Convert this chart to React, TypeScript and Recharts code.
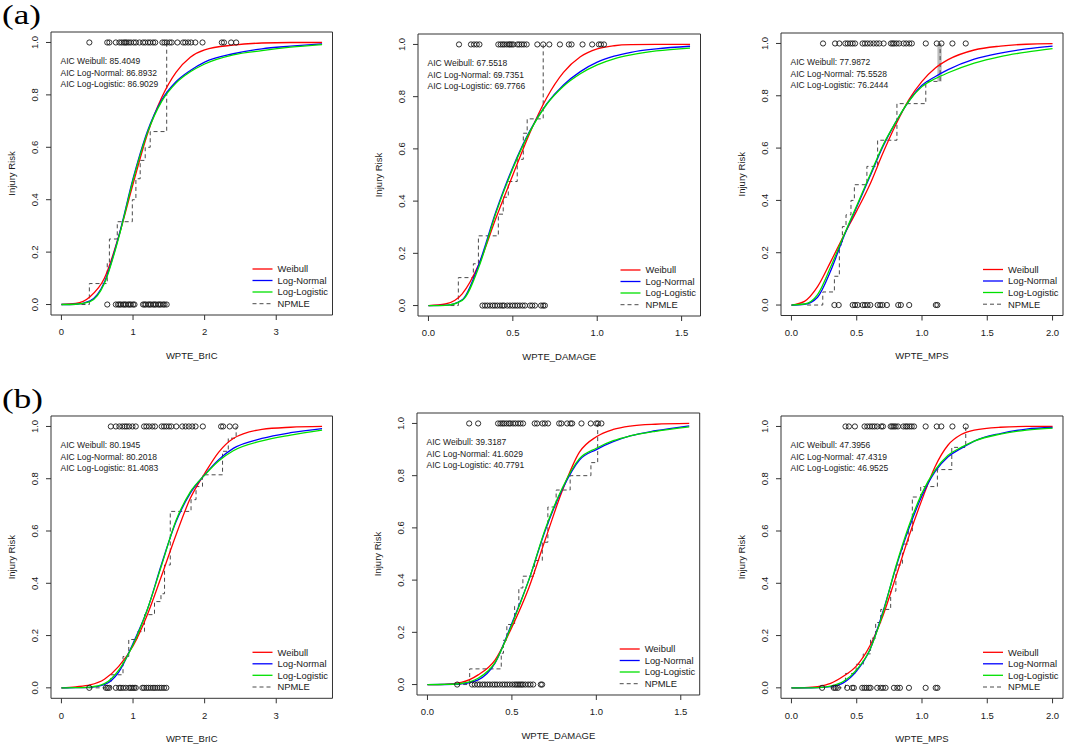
import React from 'react';
import { ComposedChart, Line, Scatter, XAxis, YAxis, ReferenceArea } from 'recharts';

// ---------- data ----------
const SERIES = ['Weibull', 'Log-Normal', 'Log-Logistic'];
const NPMLE_NAME = 'NPMLE';
const Y_TICKS = [0, 0.2, 0.4, 0.6, 0.8, 1.0];
const BRIC_TICKS = [0, 1, 2, 3];
const DAMAGE_TICKS = [0, 0.5, 1.0, 1.5];
const MPS_TICKS = [0, 0.5, 1.0, 1.5, 2.0];

// (a) WPTE_BrIC
const aBricGrid = [0, 0.2, 0.4, 0.6, 0.8, 1.0, 1.2, 1.4, 1.6, 1.8, 2.0, 2.4, 2.8, 3.2, 3.64];
const aBricWeibull = [0, 0.004, 0.03, 0.1, 0.26, 0.46, 0.65, 0.79, 0.886, 0.944, 0.972, 0.99, 0.998, 1, 1];
const aBricLogNormal = [0, 0.001, 0.014, 0.085, 0.26, 0.48, 0.66, 0.78, 0.85, 0.893, 0.925, 0.957, 0.976, 0.986, 0.995];
const aBricLogLogistic = [0, 0.001, 0.011, 0.08, 0.255, 0.475, 0.655, 0.775, 0.845, 0.888, 0.918, 0.953, 0.969, 0.982, 0.992];
const aBricStepX = [0.28, 0.39, 0.64, 0.67, 0.78, 0.99, 1.04, 1.1, 1.17, 1.24, 1.47];
const aBricStepY = [0, 0.08, 0.16, 0.25, 0.316, 0.4, 0.48, 0.55, 0.6, 0.66, 1];
const aBricInjured = [0.39, 0.64, 0.67, 0.76, 0.81, 0.84, 0.87, 0.89, 0.91, 0.94, 0.97, 1.01, 1.04, 1.09, 1.14, 1.17, 1.21, 1.24, 1.28, 1.31, 1.41, 1.44, 1.47, 1.51, 1.54, 1.62, 1.7, 1.73, 1.77, 1.81, 1.87, 1.97, 2.24, 2.27, 2.37, 2.44];
const aBricUninjured = [0.64, 0.76, 0.79, 0.81, 0.83, 0.86, 0.88, 0.9, 0.93, 0.95, 0.97, 1.0, 1.02, 1.14, 1.16, 1.18, 1.21, 1.23, 1.25, 1.28, 1.3, 1.32, 1.35, 1.37, 1.39, 1.42, 1.44, 1.47];
const aBricAic = [85.4049, 86.8932, 86.9029];

// (a) WPTE_DAMAGE
const aDmgGrid = [0, 0.1, 0.2, 0.3, 0.4, 0.5, 0.6, 0.7, 0.8, 0.9, 1.0, 1.1, 1.2, 1.35, 1.55];
const aDmgWeibull = [0, 0.006, 0.045, 0.16, 0.335, 0.5, 0.66, 0.795, 0.893, 0.953, 0.983, 0.995, 0.999, 1, 1];
const aDmgLogNormal = [0, 0.0005, 0.022, 0.16, 0.36, 0.53, 0.668, 0.772, 0.845, 0.896, 0.932, 0.955, 0.97, 0.983, 0.993];
const aDmgLogLogistic = [0, 0.001, 0.02, 0.15, 0.355, 0.525, 0.665, 0.77, 0.84, 0.888, 0.922, 0.945, 0.96, 0.975, 0.986];
const aDmgStepX = [0.13, 0.177, 0.266, 0.296, 0.414, 0.443, 0.473, 0.526, 0.562, 0.585, 0.68];
const aDmgStepY = [0, 0.107, 0.16, 0.267, 0.35, 0.415, 0.475, 0.56, 0.66, 0.715, 1];
const aDmgInjured = [0.181, 0.252, 0.27, 0.286, 0.302, 0.414, 0.428, 0.44, 0.45, 0.464, 0.477, 0.483, 0.493, 0.503, 0.527, 0.538, 0.552, 0.566, 0.582, 0.645, 0.68, 0.716, 0.779, 0.832, 0.848, 0.913, 0.97, 1.01, 1.022, 1.04];
const aDmgUninjured = [0.32, 0.335, 0.349, 0.365, 0.381, 0.394, 0.408, 0.424, 0.438, 0.448, 0.467, 0.483, 0.499, 0.513, 0.527, 0.542, 0.558, 0.572, 0.602, 0.615, 0.631, 0.667, 0.68, 0.69];
const aDmgAic = [67.5518, 69.7351, 69.7766];

// (a) WPTE_MPS
const aMpsGrid = [0, 0.1, 0.2, 0.3, 0.4, 0.5, 0.6, 0.7, 0.8, 0.9, 1.0, 1.1, 1.2, 1.4, 1.6, 1.8, 2.0];
const aMpsWeibull = [0, 0.014, 0.07, 0.165, 0.265, 0.36, 0.46, 0.58, 0.69, 0.785, 0.855, 0.905, 0.938, 0.975, 0.99, 0.997, 0.999];
const aMpsLogNormal = [0, 0.003, 0.03, 0.13, 0.26, 0.375, 0.49, 0.605, 0.7, 0.78, 0.84, 0.873, 0.9, 0.94, 0.963, 0.979, 0.99];
const aMpsLogLogistic = [0, 0.004, 0.04, 0.145, 0.265, 0.38, 0.495, 0.61, 0.7, 0.78, 0.835, 0.865, 0.888, 0.925, 0.95, 0.967, 0.98];
const aMpsStepX = [0.12, 0.24, 0.329, 0.367, 0.39, 0.418, 0.456, 0.482, 0.578, 0.66, 0.808, 1.029, 1.139];
const aMpsStepY = [0, 0.05, 0.11, 0.23, 0.3, 0.345, 0.4, 0.46, 0.53, 0.63, 0.77, 0.855, 1];
const aMpsBand = [1.118, 1.151, 0.855, 1.0];
const aMpsInjured = [0.242, 0.334, 0.367, 0.413, 0.431, 0.451, 0.469, 0.487, 0.545, 0.563, 0.583, 0.604, 0.629, 0.652, 0.673, 0.706, 0.762, 0.775, 0.787, 0.805, 0.825, 0.859, 0.879, 0.902, 0.922, 1.029, 1.113, 1.149, 1.233, 1.335];
const aMpsUninjured = [0.329, 0.362, 0.469, 0.487, 0.507, 0.545, 0.563, 0.583, 0.604, 0.66, 0.68, 0.698, 0.731, 0.818, 0.838, 0.902, 1.106, 1.118];
const aMpsAic = [77.9872, 75.5528, 76.2444];

// (b) WPTE_BrIC
const bBricGrid = [0, 0.2, 0.4, 0.6, 0.8, 1.0, 1.2, 1.4, 1.6, 1.8, 2.0, 2.2, 2.4, 2.8, 3.2, 3.64];
const bBricWeibull = [0, 0.004, 0.011, 0.033, 0.082, 0.16, 0.28, 0.43, 0.585, 0.725, 0.82, 0.903, 0.954, 0.989, 0.997, 1];
const bBricLogNormal = [0, 0.0005, 0.002, 0.012, 0.06, 0.17, 0.3, 0.475, 0.635, 0.745, 0.815, 0.874, 0.916, 0.954, 0.976, 0.992];
const bBricLogLogistic = [0, 0.0007, 0.003, 0.016, 0.068, 0.165, 0.3, 0.47, 0.64, 0.75, 0.814, 0.869, 0.907, 0.945, 0.967, 0.986];
const bBricStepX = [0.38, 0.69, 0.86, 0.94, 1.06, 1.16, 1.3, 1.39, 1.44, 1.52, 1.81, 1.88, 1.97, 2.25, 2.33, 2.44];
const bBricStepY = [0, 0.05, 0.12, 0.185, 0.215, 0.28, 0.33, 0.36, 0.47, 0.675, 0.72, 0.77, 0.815, 0.905, 0.955, 1];
const bBricInjured = [0.69, 0.76, 0.81, 0.85, 0.885, 0.913, 0.946, 0.992, 1.038, 1.154, 1.187, 1.224, 1.27, 1.307, 1.4, 1.433, 1.465, 1.502, 1.535, 1.604, 1.688, 1.734, 1.78, 1.827, 1.873, 1.975, 2.23, 2.258, 2.35, 2.429];
const bBricUninjured = [0.389, 0.621, 0.644, 0.668, 0.76, 0.807, 0.83, 0.862, 0.899, 0.946, 0.969, 0.992, 1.015, 1.038, 1.131, 1.154, 1.187, 1.215, 1.247, 1.28, 1.307, 1.34, 1.372, 1.4, 1.433, 1.465];
const bBricAic = [80.1945, 80.2018, 81.4083];

// (b) WPTE_DAMAGE
const bDmgGrid = [0, 0.1, 0.2, 0.3, 0.4, 0.5, 0.6, 0.7, 0.8, 0.9, 1.0, 1.1, 1.2, 1.35, 1.55];
const bDmgWeibull = [0, 0.001, 0.008, 0.037, 0.094, 0.22, 0.37, 0.56, 0.745, 0.89, 0.949, 0.977, 0.99, 0.997, 1];
const bDmgLogNormal = [0, 0.0002, 0.003, 0.018, 0.082, 0.235, 0.4, 0.595, 0.75, 0.86, 0.9, 0.93, 0.952, 0.972, 0.991];
const bDmgLogLogistic = [0, 0.0003, 0.004, 0.024, 0.084, 0.23, 0.4, 0.6, 0.755, 0.865, 0.905, 0.934, 0.952, 0.97, 0.987];
const bDmgStepX = [0.17, 0.25, 0.437, 0.45, 0.47, 0.516, 0.541, 0.565, 0.634, 0.68, 0.713, 0.762, 0.845, 0.968, 1.008];
const bDmgStepY = [0, 0.06, 0.12, 0.17, 0.23, 0.3, 0.37, 0.415, 0.475, 0.545, 0.68, 0.745, 0.8, 0.85, 1];
const bDmgInjured = [0.247, 0.3, 0.418, 0.432, 0.444, 0.454, 0.468, 0.482, 0.491, 0.507, 0.521, 0.537, 0.551, 0.566, 0.635, 0.649, 0.681, 0.695, 0.714, 0.78, 0.793, 0.827, 0.847, 0.857, 0.912, 0.967, 1.0, 1.01, 1.03];
const bDmgUninjured = [0.176, 0.264, 0.28, 0.296, 0.31, 0.326, 0.34, 0.355, 0.369, 0.385, 0.399, 0.412, 0.428, 0.444, 0.458, 0.472, 0.487, 0.503, 0.517, 0.527, 0.537, 0.547, 0.557, 0.566, 0.58, 0.596, 0.61, 0.626, 0.671, 0.679];
const bDmgAic = [39.3187, 41.6029, 40.7791];

// (b) WPTE_MPS
const bMpsGrid = [0, 0.1, 0.2, 0.3, 0.4, 0.5, 0.6, 0.7, 0.8, 0.9, 1.0, 1.1, 1.2, 1.3, 1.4, 1.6, 1.8, 2.0];
const bMpsWeibull = [0, 0.001, 0.005, 0.017, 0.045, 0.085, 0.16, 0.275, 0.425, 0.58, 0.72, 0.846, 0.929, 0.969, 0.986, 0.997, 1, 1];
const bMpsLogNormal = [0, 0, 0.001, 0.005, 0.02, 0.065, 0.145, 0.29, 0.46, 0.61, 0.735, 0.827, 0.884, 0.916, 0.944, 0.973, 0.99, 0.996];
const bMpsLogLogistic = [0, 0, 0.001, 0.007, 0.025, 0.07, 0.145, 0.285, 0.465, 0.62, 0.745, 0.833, 0.89, 0.92, 0.944, 0.971, 0.986, 0.994];
const bMpsStepX = [0.3, 0.414, 0.496, 0.55, 0.606, 0.645, 0.684, 0.76, 0.8, 0.85, 0.895, 0.926, 0.99, 1.118, 1.228, 1.335];
const bMpsStepY = [0, 0.055, 0.09, 0.13, 0.19, 0.25, 0.3, 0.37, 0.47, 0.55, 0.6, 0.73, 0.77, 0.835, 0.92, 1];
const bMpsInjured = [0.414, 0.44, 0.486, 0.56, 0.581, 0.601, 0.619, 0.637, 0.657, 0.688, 0.701, 0.76, 0.772, 0.785, 0.798, 0.816, 0.857, 0.875, 0.887, 0.905, 0.921, 0.939, 1.028, 1.113, 1.148, 1.233, 1.335];
const bMpsUninjured = [0.235, 0.325, 0.338, 0.355, 0.427, 0.465, 0.478, 0.542, 0.56, 0.575, 0.593, 0.606, 0.657, 0.683, 0.701, 0.721, 0.785, 0.811, 0.831, 0.9, 1.028, 1.105, 1.118];
const bMpsAic = [47.3956, 47.4319, 46.9525];

// ---------- look ----------
const FONT = '"Liberation Sans", Arial, Helvetica, sans-serif';
const COLORS = ['#ff0000', '#0000ff', '#00e000'];
const STEP_COLOR = '#4a4a4a';
const INK = '#1a1a1a';

// Helvetica advance widths (per 1000 em) for the AIC lines, so the text keeps R's width
const ADVANCE: Record<string, number> = {
  A: 667, I: 278, C: 722, ' ': 278, W: 944, e: 556, i: 222, b: 556, u: 556, l: 222, ':': 278, '.': 278,
  L: 556, o: 556, g: 556, '-': 333, N: 722, r: 333, m: 833, s: 500, t: 278, c: 500, a: 556,
};
const textWidth = (s: string, size: number) =>
  s.split('').reduce((acc, ch) => acc + (ADVANCE[ch] ?? 556), 0) * size / 1000;

interface Panel {
  left: number; top: number; w: number; h: number;
  xMax: number; xTicks: number[]; digits: number; xTitle: string;
  grid: number[]; curves: number[][];
  stepX: number[]; stepY: number[];
  injured: number[]; uninjured: number[];
  aic: number[]; band?: number[];
}

const PANELS: Panel[] = [
  { left: 50.5, top: 31.5, w: 281.5, h: 283, xMax: 3.64, xTicks: BRIC_TICKS, digits: 0, xTitle: 'WPTE_BrIC',
    grid: aBricGrid, curves: [aBricWeibull, aBricLogNormal, aBricLogLogistic], stepX: aBricStepX, stepY: aBricStepY,
    injured: aBricInjured, uninjured: aBricUninjured, aic: aBricAic },
  { left: 418, top: 33.5, w: 282.5, h: 282, xMax: 1.55, xTicks: DAMAGE_TICKS, digits: 1, xTitle: 'WPTE_DAMAGE',
    grid: aDmgGrid, curves: [aDmgWeibull, aDmgLogNormal, aDmgLogLogistic], stepX: aDmgStepX, stepY: aDmgStepY,
    injured: aDmgInjured, uninjured: aDmgUninjured, aic: aDmgAic },
  { left: 780.5, top: 33.3, w: 282, h: 282.5, xMax: 2.0, xTicks: MPS_TICKS, digits: 1, xTitle: 'WPTE_MPS',
    grid: aMpsGrid, curves: [aMpsWeibull, aMpsLogNormal, aMpsLogLogistic], stepX: aMpsStepX, stepY: aMpsStepY,
    injured: aMpsInjured, uninjured: aMpsUninjured, aic: aMpsAic, band: aMpsBand },
  { left: 50.5, top: 416, w: 281.5, h: 282.3, xMax: 3.64, xTicks: BRIC_TICKS, digits: 0, xTitle: 'WPTE_BrIC',
    grid: bBricGrid, curves: [bBricWeibull, bBricLogNormal, bBricLogLogistic], stepX: bBricStepX, stepY: bBricStepY,
    injured: bBricInjured, uninjured: bBricUninjured, aic: bBricAic },
  { left: 417.3, top: 413, w: 282.7, h: 282, xMax: 1.55, xTicks: DAMAGE_TICKS, digits: 1, xTitle: 'WPTE_DAMAGE',
    grid: bDmgGrid, curves: [bDmgWeibull, bDmgLogNormal, bDmgLogLogistic], stepX: bDmgStepX, stepY: bDmgStepY,
    injured: bDmgInjured, uninjured: bDmgUninjured, aic: bDmgAic },
  { left: 780.5, top: 416, w: 282, h: 282.3, xMax: 2.0, xTicks: MPS_TICKS, digits: 1, xTitle: 'WPTE_MPS',
    grid: bMpsGrid, curves: [bMpsWeibull, bMpsLogNormal, bMpsLogLogistic], stepX: bMpsStepX, stepY: bMpsStepY,
    injured: bMpsInjured, uninjured: bMpsUninjured, aic: bMpsAic },
];

const pairs = (xs: number[], ys: number[]) => xs.map((x, i) => ({ x, y: ys[i] }));
const atLevel = (xs: number[], y: number) => xs.map((x) => ({ x, y }));

const txt: React.CSSProperties = { fontFamily: FONT };

const OpenCircle = (props: any) => {
  if (props.cx == null || props.cy == null) return null;
  return <circle cx={props.cx} cy={props.cy} r={2.6} fill="none" stroke={INK} strokeWidth={0.9} />;
};

const YTick = (props: any) => {
  const { x, y, payload } = props;
  const bx = x - 8;
  return (
    <text x={bx} y={y} transform={`rotate(-90 ${bx} ${y})`} textAnchor="middle" fontSize={9.5} fill={INK} style={txt}>
      {Number(payload.value).toFixed(1)}
    </text>
  );
};

const RiskPanel: React.FC<{ p: Panel }> = ({ p }) => {
  const W = p.w + 60;
  const H = p.h + 60;
  const xDomain = [-0.04 * p.xMax, 1.04 * p.xMax];
  const bx = 50;
  const by = 10;
  const legendRows = [46, 34.5, 23, 11.3];
  const names = [...SERIES, NPMLE_NAME];
  const aicSize = 8.5;

  return (
    <div style={{ position: 'absolute', left: p.left - 50, top: p.top - 10, width: W, height: H }}>
      <ComposedChart width={W} height={H} margin={{ top: 10, right: 10, left: 0, bottom: 0 }}>
        <XAxis type="number" dataKey="x" domain={xDomain} allowDataOverflow ticks={p.xTicks} interval={0}
          tickFormatter={(v: number) => v.toFixed(p.digits)} axisLine={false} tickLine={{ stroke: '#333' }}
          tickSize={5} tickMargin={8.6} height={50}
          tick={{ fontSize: 9.5, fill: INK, fontFamily: FONT }} />
        <YAxis type="number" dataKey="y" domain={[-0.04, 1.04]} allowDataOverflow ticks={Y_TICKS} interval={0}
          axisLine={false} tickLine={{ stroke: '#333' }} tickSize={5} tickMargin={0} width={50} tick={YTick} />
        <ReferenceArea x1={xDomain[0]} x2={xDomain[1]} y1={-0.04} y2={1.04} fill="none" fillOpacity={0}
          stroke="#333" strokeWidth={1} ifOverflow="visible" />
        {p.band && (
          <ReferenceArea x1={p.band[0]} x2={p.band[1]} y1={p.band[2]} y2={p.band[3]} fill="#bdbdbd" fillOpacity={1}
            stroke="none" ifOverflow="visible" />
        )}
        <Line data={pairs(p.stepX, p.stepY)} dataKey="y" type="stepAfter" stroke={STEP_COLOR} strokeWidth={1}
          strokeDasharray="4 3" dot={false} activeDot={false} isAnimationActive={false} />
        {p.curves.map((c, i) => (
          <Line key={SERIES[i]} data={pairs(p.grid, c)} dataKey="y" type="monotone" stroke={COLORS[i]}
            strokeWidth={1.3} dot={false} activeDot={false} isAnimationActive={false} />
        ))}
        <Scatter data={atLevel(p.injured, 1)} dataKey="y" shape={OpenCircle} isAnimationActive={false} />
        <Scatter data={atLevel(p.uninjured, 0)} dataKey="y" shape={OpenCircle} isAnimationActive={false} />
      </ComposedChart>

      <svg width={W} height={H} style={{ position: 'absolute', left: 0, top: 0, pointerEvents: 'none' }}>
        {p.aic.map((v, i) => {
          const s = `AIC ${SERIES[i]}: ${v.toFixed(4)}`;
          return (
            <text key={i} x={bx + 9.5} y={by + 32 + i * 11.5} fontSize={aicSize} fill={INK} style={txt}
              textLength={textWidth(s, aicSize)} lengthAdjust="spacingAndGlyphs">
              {s}
            </text>
          );
        })}
        {names.map((n, i) => {
          const cy = by + p.h - legendRows[i];
          return (
            <g key={n}>
              <line x1={bx + p.w - 80} x2={bx + p.w - 60} y1={cy} y2={cy}
                stroke={i < 3 ? COLORS[i] : STEP_COLOR} strokeWidth={i < 3 ? 1.3 : 1}
                strokeDasharray={i < 3 ? undefined : '4 3'} />
              <text x={bx + p.w - 55} y={cy + 3.3} fontSize={9.4} fill={INK} style={txt}>{n}</text>
            </g>
          );
        })}
        <text x={bx + p.w / 2} y={by + p.h + 43.5} textAnchor="middle" fontSize={9.5} fill={INK} style={txt}>
          {p.xTitle}
        </text>
        <text x={bx - 36} y={by + p.h / 2} textAnchor="middle" fontSize={9.5} fill={INK} style={txt}
          transform={`rotate(-90 ${bx - 36} ${by + p.h / 2})`}>Injury Risk</text>
      </svg>
    </div>
  );
};

const letterStyle: React.CSSProperties = {
  position: 'absolute', left: 2, fontFamily: '"Liberation Serif", "Times New Roman", serif', fontSize: 27,
  lineHeight: '30px', color: '#000', transform: 'scaleX(1.3)', transformOrigin: 'left top',
};

export default function App() {
  return (
    <div style={{ position: 'absolute', left: 0, top: 0, width: 1065, height: 745, overflow: 'hidden',
      background: '#fff', fontFamily: FONT }}>
      <div style={{ ...letterStyle, top: 0 }}>(a)</div>
      <div style={{ ...letterStyle, top: 383.5 }}>(b)</div>
      {PANELS.map((p, i) => (
        <RiskPanel key={i} p={p} />
      ))}
    </div>
  );
}
